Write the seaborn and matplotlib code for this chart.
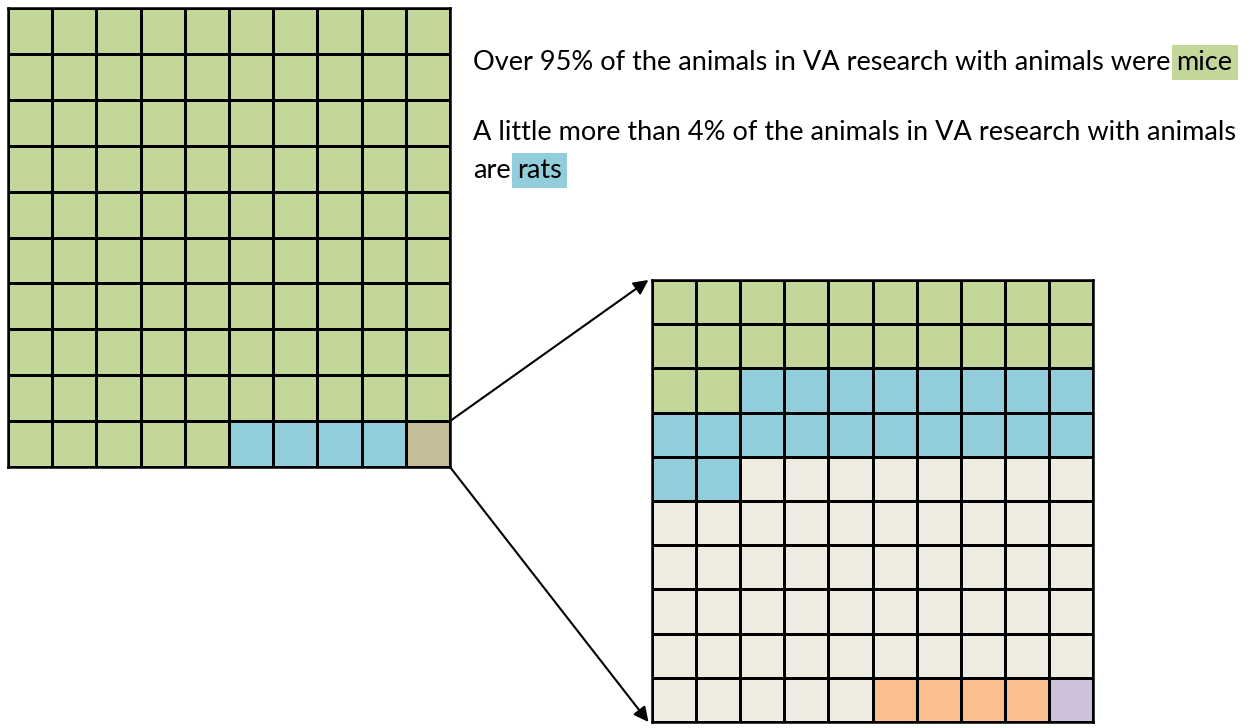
import numpy as np
import matplotlib
matplotlib.use("Agg")
import matplotlib.pyplot as plt
from matplotlib.colors import ListedColormap
from matplotlib.patches import ConnectionPatch
import seaborn as sns

# all animals (10x10 grid, 1 cell = 1%)
overall_labels = ["mice", "rats", "other"]
overall_counts = [95, 4, 1]
overall_colors = ["#C4D79B", "#92CDDC", "#C4BD97"]

# zoom into the "other" 1% cell
zoom_labels = ["mice", "rats", "other a", "other b", "other c"]
zoom_counts = [22, 20, 53, 4, 1]
zoom_colors = ["#C4D79B", "#92CDDC", "#EEECE1", "#FABF8F", "#CCC0DA"]

text_mice = "Over 95% of the animals in VA research with animals were"
text_rats1 = "A little more than 4% of the animals in VA research with animals"
text_rats2 = "are"


def waffle(counts):
    codes = np.repeat(np.arange(len(counts)), counts)
    return codes.reshape(10, 10)


sns.set_theme(style="white")
plt.rcParams["font.family"] = ["Lato", "DejaVu Sans"]

W, H = 1250, 728
fig = plt.figure(figsize=(12.5, 7.28), dpi=100)


def px_axes(x0, y0, x1, y1):
    return fig.add_axes([x0 / W, 1 - y1 / H, (x1 - x0) / W, (y1 - y0) / H])


ax_left = px_axes(8, 8, 450, 467)
ax_right = px_axes(652, 280, 1093, 722)

for ax, counts, colors in [(ax_left, overall_counts, overall_colors),
                           (ax_right, zoom_counts, zoom_colors)]:
    n = len(colors)
    sns.heatmap(waffle(counts), cmap=ListedColormap(colors), vmin=-0.5, vmax=n - 0.5,
                cbar=False, linewidths=1.8, linecolor="black",
                xticklabels=False, yticklabels=False, ax=ax)
    for s in ax.spines.values():
        s.set_visible(True)
        s.set_linewidth(1.8)
        s.set_color("black")

# arrows from the small cell to the zoomed grid
for ya, yb in [(9, 0), (10, 10)]:
    con = ConnectionPatch(xyA=(10, ya), coordsA=ax_left.transData,
                          xyB=(-0.08, yb), coordsB=ax_right.transData,
                          arrowstyle="-|>", mutation_scale=22, lw=1.5,
                          color="black", shrinkA=0, shrinkB=0)
    fig.add_artist(con)

fs = 19.5
t1 = fig.text(473 / W, 1 - 70 / H, text_mice, fontsize=fs, va="baseline", ha="left", color="black")
plt.annotate("mice", xy=(1, 0), xycoords=t1, xytext=(4.5, 0), textcoords="offset points",
             fontsize=fs, va="bottom", ha="left", color="black",
             bbox=dict(boxstyle="square,pad=0.18", fc=zoom_colors[0], ec="none"))
fig.text(473 / W, 1 - 140 / H, text_rats1, fontsize=fs, va="baseline", ha="left", color="black")
t3 = fig.text(473 / W, 1 - 178 / H, text_rats2, fontsize=fs, va="baseline", ha="left", color="black")
plt.annotate("rats", xy=(1, 0), xycoords=t3, xytext=(4.5, 0), textcoords="offset points",
             fontsize=fs, va="bottom", ha="left", color="black",
             bbox=dict(boxstyle="square,pad=0.18", fc=zoom_colors[1], ec="none"))

fig.savefig("out.png", dpi=100, facecolor="white")
